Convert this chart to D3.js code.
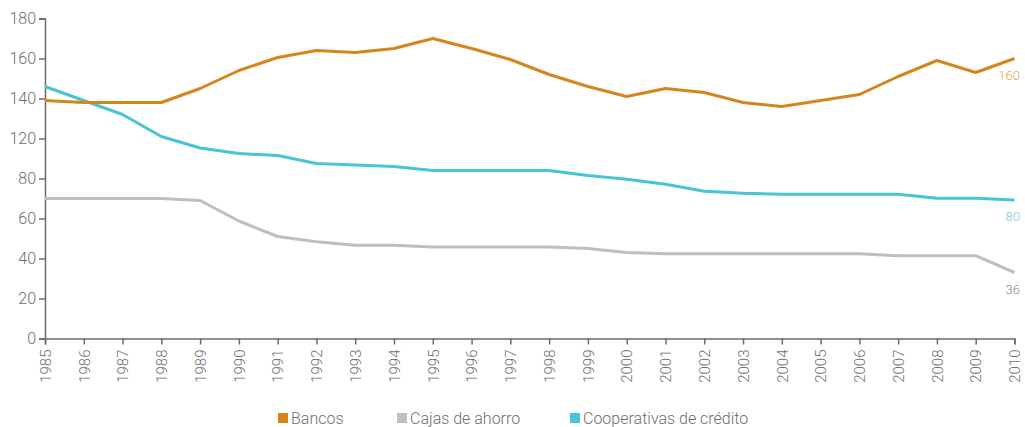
<!DOCTYPE html>
<html>
<head>
<meta charset="utf-8">
<script src="https://cdn.jsdelivr.net/npm/d3@7"></script>
<style>
  body { margin: 0; background: #fff; }
  svg text { font-family: Roboto, "Noto Sans", sans-serif; font-weight: 300; }
</style>
</head>
<body>
<div id="chart"></div>
<script>
const years = d3.range(1985, 2011);
const bancos = [139, 138, 138, 138, 145, 154, 160.5, 164, 163, 165, 170, 165, 159.5, 152, 146, 141, 145, 143, 138, 136, 139, 142, 151, 159, 153, 160];
const cajas = [70, 70, 70, 70, 69, 58.75, 51, 48.4, 46.6, 46.6, 45.75, 45.75, 45.75, 45.75, 45, 43, 42.4, 42.4, 42.4, 42.4, 42.4, 42.4, 41.4, 41.4, 41.4, 33];
const cooperativas = [146, 139, 132, 121, 110.5, 105, 103, 95, 93.5, 92, 88, 88, 88, 88, 83, 79.6, 77.1, 73.6, 72.6, 72.1, 72.1, 72.1, 72.1, 70.1, 70.1, 69.25];
// tick values as printed on the axis (no 100)
const yTicks = [0, 20, 40, 60, 80, 120, 140, 160, 180];
const endLabels = ["160", "36", "80"];
const seriesNames = ["Bancos", "Cajas de ahorro", "Cooperativas de crédito"];
const colors = ["#d4861c", "#bfbfc3", "#48c4d3"];
const labelColors = ["#e0a256", "#8a8a8a", "#72d3df"];

const width = 1025, height = 427;
const margin = {top: 18.5, right: 10.5, bottom: 88.5, left: 45};

const svg = d3.select("#chart").append("svg")
    .attr("width", width)
    .attr("height", height);

const x = d3.scaleLinear()
    .domain([1985, 2010])
    .range([margin.left, width - margin.right]);

// axis jumps from 80 to 120 in one step, so the scale is piecewise
const y = d3.scaleLinear()
    .domain([0, 80, 120, 180])
    .range([height - margin.bottom, height - margin.bottom - 160, height - margin.bottom - 200, margin.top]);

let yAxis = svg.append("g")
    .attr("transform", `translate(${margin.left},0)`)
    .call(d3.axisLeft(y).tickValues(yTicks).tickSize(6).tickPadding(3).tickFormat(d3.format("d")));

let xAxis = svg.append("g")
    .attr("transform", `translate(0,${height - margin.bottom})`)
    .call(d3.axisBottom(x).tickValues(years).tickSize(6).tickFormat(d3.format("d")));

[yAxis, xAxis].forEach((ax) => {
    ax.select(".domain").attr("stroke", "#6b6b6b").attr("stroke-width", 1.5);
    ax.selectAll(".tick line").attr("stroke", "#6b6b6b").attr("stroke-width", 1.5);
    ax.selectAll(".tick text").attr("fill", "#6e6e6e");
});
yAxis.selectAll(".tick text").attr("font-size", 16);
xAxis.selectAll(".tick text")
    .attr("font-size", 15)
    .attr("text-anchor", "end")
    .attr("transform", "rotate(-90)")
    .attr("x", -11)
    .attr("y", 0)
    .attr("dy", "0.35em");

const line = d3.line()
    .x((d, i) => x(years[i]))
    .y((d) => y(d));

const allSeries = [bancos, cajas, cooperativas];
// draw order: cajas, cooperativas, bancos on top
[1, 2, 0].forEach((k) => {
    svg.append("path")
        .datum(allSeries[k])
        .attr("fill", "none")
        .attr("stroke", colors[k])
        .attr("stroke-width", 3)
        .attr("stroke-linejoin", "round")
        .attr("d", line);
});

allSeries.forEach((s, k) => {
    svg.append("text")
        .attr("x", width - 5)
        .attr("y", y(s[s.length - 1]) + 21)
        .attr("text-anchor", "end")
        .attr("font-size", 13)
        .attr("fill", labelColors[k])
        .text(endLabels[k]);
});

const legendX = [278, 397, 570];
const legend = svg.append("g");
seriesNames.forEach((name, k) => {
    legend.append("rect")
        .attr("x", legendX[k])
        .attr("y", 413)
        .attr("width", 10)
        .attr("height", 10)
        .attr("fill", colors[k]);
    legend.append("text")
        .attr("x", legendX[k] + 13)
        .attr("y", 424)
        .attr("font-size", 16)
        .attr("fill", "#6e6e6e")
        .text(name);
});
</script>
</body>
</html>
